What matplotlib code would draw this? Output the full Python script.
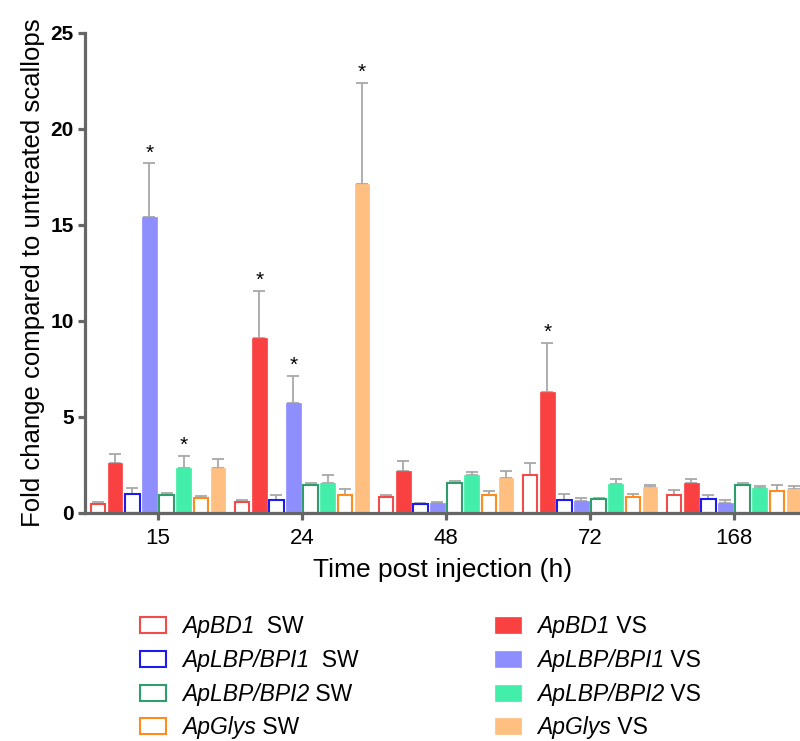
import numpy as np
import matplotlib
matplotlib.use("Agg")
import matplotlib.pyplot as plt
from matplotlib.patches import Rectangle

plt.rcParams['font.family'] = ['Liberation Sans', 'DejaVu Sans']

time_points = ["15", "24", "48", "72", "168"]
genes = ["ApBD1", "ApLBP/BPI1", "ApLBP/BPI2", "ApGlys"]

# mean fold change and upper SD, per gene, per time point
bd1_sw = [0.45, 0.56, 0.85, 1.96, 0.92]
bd1_sw_err = [0.10, 0.12, 0.10, 0.63, 0.26]
bd1_vs = [2.59, 9.09, 2.21, 6.32, 1.58]
bd1_vs_err = [0.48, 2.49, 0.50, 2.55, 0.21]
lbp1_sw = [0.99, 0.69, 0.47, 0.68, 0.75]
lbp1_sw_err = [0.30, 0.26, 0.05, 0.29, 0.17]
lbp1_vs = [15.42, 5.73, 0.50, 0.61, 0.52]
lbp1_vs_err = [2.80, 1.41, 0.06, 0.15, 0.14]
lbp2_sw = [0.92, 1.48, 1.55, 0.71, 1.44]
lbp2_sw_err = [0.10, 0.10, 0.10, 0.07, 0.14]
lbp2_vs = [2.33, 1.55, 2.00, 1.49, 1.32]
lbp2_vs_err = [0.64, 0.45, 0.12, 0.27, 0.09]
glys_sw = [0.76, 0.95, 0.92, 0.83, 1.13]
glys_sw_err = [0.14, 0.28, 0.21, 0.16, 0.34]
glys_vs = [2.34, 17.14, 1.82, 1.34, 1.23]
glys_vs_err = [0.47, 5.27, 0.37, 0.12, 0.16]

# significant bars: (series index 0..7, time index)
stars = [(3, 0), (5, 0), (1, 1), (3, 1), (7, 1), (1, 3)]

series = [
    (bd1_sw, bd1_sw_err, "SW", "#F04C4C", "  SW"),
    (bd1_vs, bd1_vs_err, "VS", "#FA4141", " VS"),
    (lbp1_sw, lbp1_sw_err, "SW", "#1C1CF0", "  SW"),
    (lbp1_vs, lbp1_vs_err, "VS", "#8E8EFF", " VS"),
    (lbp2_sw, lbp2_sw_err, "SW", "#2E9E6A", " SW"),
    (lbp2_vs, lbp2_vs_err, "VS", "#42EEAA", " VS"),
    (glys_sw, glys_sw_err, "SW", "#FF8C1E", " SW"),
    (glys_vs, glys_vs_err, "VS", "#FFBF80", " VS"),
]

fig = plt.figure(figsize=(8, 7.41), dpi=100)
ax = fig.add_axes([85 / 800, 228 / 741, 715 / 800, 480 / 741])

x = np.arange(len(time_points))
pitch = 0.1188
width = 0.1007

for i, (vals, errs, kind, col, _) in enumerate(series):
    pos = x + (i - 3.5) * pitch
    if kind == "SW":
        ax.bar(pos, vals, width, facecolor="white", edgecolor=col, linewidth=1.5, zorder=2)
    else:
        ax.bar(pos, vals, width, facecolor=col, edgecolor=col, linewidth=0.5, zorder=2)
    ax.errorbar(pos, vals, yerr=[np.zeros(len(vals)), errs], fmt="none",
                ecolor="#A8A8A8", elinewidth=1.3, capsize=4, capthick=1.3, zorder=1)

for si, ti in stars:
    vals, errs = series[si][0], series[si][1]
    ax.text(x[ti] + (si - 3.5) * pitch, vals[ti] + errs[ti] + 0.25, "*",
            ha="center", va="baseline", fontsize=15, color="black")

ax.set_xlim(-0.507, 4.458)
ax.set_ylim(0, 25)
ax.set_yticks([0, 5, 10, 15, 20, 25])
ax.set_xticks(x)
ax.set_xticklabels(time_points, fontsize=16)
for lab in ax.get_yticklabels():
    lab.set_fontsize(15)
    lab.set_fontweight("bold")

for side in ["top", "right"]:
    ax.spines[side].set_visible(False)
for side in ["left", "bottom"]:
    ax.spines[side].set_color("#666666")
    ax.spines[side].set_linewidth(2.3)
ax.tick_params(axis="both", direction="out", length=5, width=2.3, color="#666666")
ax.tick_params(axis="x", pad=6)
ax.tick_params(axis="y", pad=3)

ax.set_xlabel("Time post injection (h)", fontsize=19, labelpad=6)
ax.set_ylabel("Fold change compared to untreated scallops", fontsize=18.5, labelpad=4)

# legend, two columns drawn by hand: italic gene name + plain suffix
W, H = 800, 741
rows_y = [625, 659, 693, 726]
fig.canvas.draw()
renderer = fig.canvas.get_renderer()
for i, (vals, errs, kind, col, suffix) in enumerate(series):
    g = genes[i // 2]
    r = rows_y[i // 2]
    if kind == "SW":
        px, tx = 140, 182
        fc, lw = "white", 1.5
    else:
        px, tx = 495, 537
        fc, lw = col, 0.5
    fig.add_artist(Rectangle((px / W, 1 - (r + 8) / H), 26 / W, 16 / H,
                             transform=fig.transFigure, facecolor=fc,
                             edgecolor=col, linewidth=lw))
    t = fig.text(tx / W, 1 - (r + 8) / H, g, fontsize=16.5, style="italic",
                 va="baseline", ha="left")
    ext = t.get_window_extent(renderer)
    fig.text(ext.x1 / W, 1 - (r + 8) / H, suffix, fontsize=16.5,
             va="baseline", ha="left")

fig.savefig("out.png", dpi=100)
